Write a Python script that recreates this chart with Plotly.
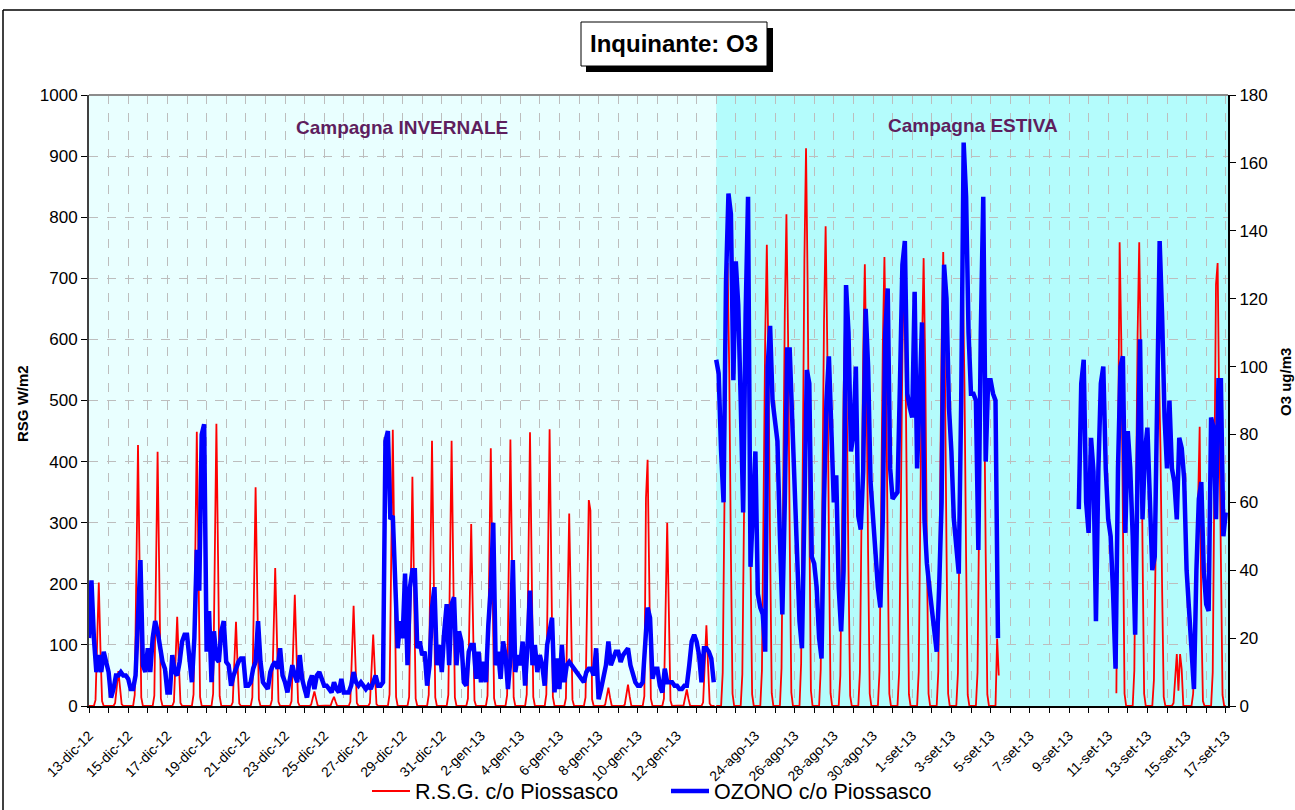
import plotly.graph_objects as go

# Day index 0 = 13-dic-12. Winter campaign: days 0-31; summer campaign: day 32 = 22-ago-13 ... day 58 = 17-set-13
TICK_DAYS = list(range(0, 59, 2))
TICK_LABELS = [
    "13-dic-12", "15-dic-12", "17-dic-12", "19-dic-12", "21-dic-12", "23-dic-12",
    "25-dic-12", "27-dic-12", "29-dic-12", "31-dic-12", "2-gen-13", "4-gen-13",
    "6-gen-13", "8-gen-13", "10-gen-13", "12-gen-13", "",
    "24-ago-13", "26-ago-13", "28-ago-13", "30-ago-13", "1-set-13", "3-set-13",
    "5-set-13", "7-set-13", "9-set-13", "11-set-13", "13-set-13", "15-set-13", "17-set-13",
]
WINTER_FIRST_DAY = 0
SUMMER_FIRST_DAY = 32

# Solar radiation (W/m2), one row per day, readings at 0,2,4,...,22 h
RSG_HOURS = [0, 2, 4, 6, 8, 10, 12, 14, 16, 18, 20, 22]
rsg_invernale = [
    [0, 0, 0, 0, 10, 110, 202, 95, 8, 0, 0, 0],
    [0, 0, 0, 0, 5, 38, 57, 30, 3, 0, 0, 0],
    [0, 0, 0, 0, 18, 245, 427, 225, 14, 0, 0, 0],
    [0, 0, 0, 0, 17, 236, 416, 218, 12, 0, 0, 0],
    [0, 0, 0, 0, 7, 88, 146, 72, 5, 0, 0, 0],
    [0, 0, 0, 0, 19, 258, 449, 236, 15, 0, 0, 0],
    [0, 0, 0, 0, 20, 268, 462, 246, 16, 0, 0, 0],
    [0, 0, 0, 0, 6, 82, 138, 64, 4, 0, 0, 0],
    [0, 0, 0, 0, 14, 205, 358, 190, 11, 0, 0, 0],
    [0, 0, 0, 0, 10, 128, 226, 118, 7, 0, 0, 0],
    [0, 0, 0, 0, 8, 102, 182, 92, 6, 0, 0, 0],
    [0, 0, 0, 0, 2, 14, 24, 12, 1, 0, 0, 0],
    [0, 0, 0, 0, 1, 9, 15, 7, 0, 0, 0, 0],
    [0, 0, 0, 0, 7, 94, 164, 82, 5, 0, 0, 0],
    [0, 0, 0, 0, 5, 66, 117, 58, 3, 0, 0, 0],
    [0, 0, 0, 0, 19, 262, 452, 238, 15, 0, 0, 0],
    [0, 0, 0, 0, 15, 214, 375, 196, 12, 0, 0, 0],
    [0, 0, 0, 0, 18, 250, 434, 228, 14, 0, 0, 0],
    [0, 0, 0, 0, 18, 252, 434, 226, 14, 0, 0, 0],
    [0, 0, 0, 0, 12, 170, 298, 154, 9, 0, 0, 0],
    [0, 0, 0, 0, 17, 244, 422, 220, 13, 0, 0, 0],
    [0, 0, 0, 0, 18, 252, 436, 228, 14, 0, 0, 0],
    [0, 0, 0, 0, 19, 258, 448, 234, 15, 0, 0, 0],
    [0, 0, 0, 0, 19, 262, 453, 236, 15, 0, 0, 0],
    [0, 0, 0, 0, 13, 180, 315, 166, 10, 0, 0, 0],
    [0, 0, 0, 0, 14, 210, 337, 320, 11, 0, 0, 0],
    [0, 0, 0, 0, 2, 16, 30, 14, 1, 0, 0, 0],
    [0, 0, 0, 0, 2, 20, 35, 16, 1, 0, 0, 0],
    [0, 0, 0, 0, 16, 340, 403, 210, 12, 0, 0, 0],
    [0, 0, 0, 0, 12, 172, 300, 156, 9, 0, 0, 0],
    [0, 0, 0, 0, 1, 14, 27, 12, 1, 0, 0, 0],
    [0, 0, 0, 0, 6, 76, 132, 68, 4, 0, 0, 0],
]
N = None
rsg_estiva = [
    [0, 0, 0, 0, 55, 330, 580, 725, 545, 250, 20, 0],
    [0, 0, 0, 0, 52, 318, 560, 703, 528, 244, 19, 0],
    [0, 0, 0, 0, 58, 340, 604, 755, 566, 262, 21, 0],
    [0, 0, 0, 0, 62, 362, 644, 805, 604, 280, 22, 0],
    [0, 0, 0, 0, 70, 410, 730, 913, 685, 318, 25, 0],
    [0, 0, 0, 0, 60, 352, 628, 785, 590, 272, 21, 0],
    [0, 0, 0, 0, 50, 288, 512, 640, 480, 222, 17, 0],
    [0, 0, 0, 0, 56, 325, 578, 723, 542, 250, 20, 0],
    [0, 0, 0, 0, 57, 330, 588, 735, 552, 256, 20, 0],
    [0, 0, 0, 0, 55, 324, 576, 720, 540, 250, 19, 0],
    [0, 0, 0, 0, 56, 330, 586, 733, 550, 254, 20, 0],
    [0, 0, 0, 0, 57, 334, 594, 743, 557, 258, 20, 0],
    [0, 0, 0, 0, 54, 315, 560, 700, 525, 243, 18, 0],
    [0, 0, 0, 0, 55, 324, 577, 721, 541, 250, 19, 0],
    [0, 0, 0, 0, 110, 50, N, N, N, N, N, N],
    [N] * 12,
    [N] * 12,
    [N] * 12,
    [N] * 12,
    [N] * 12,
    [N, N, N, N, N, 21, 380, 759, 600, 280, 20, 0],
    [0, 0, 0, 0, 58, 340, 607, 759, 570, 262, 20, 0],
    [0, 0, 0, 0, 43, 252, 448, 560, 420, 195, 15, 0],
    [0, 0, 0, 0, 5, 40, 85, 25, 85, 60, 0, 0],
    [0, 0, 0, 0, 20, 90, 200, 350, 457, 150, 8, 0],
    [0, 0, 0, 0, 55, 320, 690, 725, 520, 240, 18, 0],
    [0, N, N, N, N, N, N, N, N, N, N, N],
]

# Ozone (ug/m3), one row per day, readings at 0,3,...,21 h
O3_HOURS = [0, 3, 6, 9, 12, 15, 18, 21]
o3_invernale = [
    [20, 37, 20, 10, 15, 10, 16, 13],
    [10, 2.5, 5, 9, 9, 10, 9, 9],
    [8, 5, 5, 9, 30, 43, 12, 10],
    [17, 10, 20, 25, 22, 17, 13, 11],
    [4, 4, 15, 10, 9, 13, 19, 21],
    [21, 14, 7, 20, 46, 34, 80, 83],
    [16, 28, 7, 22, 14, 13, 22, 25],
    [13, 12, 6, 9, 11, 13, 14, 14],
    [6, 6, 7, 11, 13, 25, 13, 7],
    [6, 5, 10, 12, 13, 11, 17, 9],
    [7, 4, 8, 12, 9, 7, 15, 8],
    [5, 2.5, 7, 9, 5, 9, 10, 8],
    [6, 6, 5, 4, 7, 5, 4, 8],
    [4, 4, 4, 6, 10, 7, 6, 7],
    [6, 5, 6, 5, 7, 9, 6, 6],
    [7, 78, 81, 55, 56, 40, 17, 25],
    [20, 39, 12, 35, 40, 40, 17, 19],
    [15, 16, 6, 12, 29, 35, 12, 18],
    [10, 22, 30, 12, 30, 32, 12, 22],
    [19, 7, 6, 16, 18, 18, 8, 16],
    [7, 13, 7, 24, 35, 54, 12, 16],
    [8, 19, 15, 5, 14, 43, 10, 15],
    [12, 19, 6, 18, 34, 12, 18, 10],
    [15, 12, 6, 18, 23, 26, 4, 14],
    [5, 18, 7, 12, 13, 12, 11, 10],
    [9, 8, 7, 10, 11, 11, 9, 17],
    [2, 5, 8, 12, 19, 12, 14, 16],
    [16, 13, 15, 16, 17, 12, 9, 7],
    [6, 6, 7, 20, 29, 26, 8, 11],
    [11, 6, 4, 11, 7, 7, 7, 6],
    [6, 5, 5, 6, 6, 12, 19, 21],
    [19, 15, 7, 17, 17, 16, 14, 7],
]
o3_estiva = [
    [102, 98, 75, 60, 125, 151, 145, 96],
    [131, 118, 90, 57, 115, 150, 41, 60],
    [75, 33, 29, 27, 16, 100, 112, 90],
    [85, 78, 50, 27, 60, 105, 105, 83],
    [60, 47, 25, 17, 55, 99, 95, 44],
    [42, 35, 20, 14, 60, 90, 103, 80],
    [60, 68, 35, 22, 40, 124, 110, 75],
    [80, 100, 56, 52, 69, 117, 100, 66],
    [55, 45, 35, 29, 55, 110, 123, 70],
    [61, 62, 63, 95, 130, 137, 92, 88],
    [85, 122, 70, 90, 113, 55, 42, 35],
    [28, 22, 16, 35, 60, 130, 120, 88],
    [75, 55, 45, 39, 90, 166, 150, 110],
    [92, 92, 90, 46, 110, 150, 72, 96],
    [96, 92, 90, 20, N, N, N, N],
    [N] * 8,
    [N] * 8,
    [N] * 8,
    [N, N, N, N, 58, 95, 102, 60],
    [51, 79, 69, 25, 70, 95, 100, 70],
    [55, 50, 33, 11, 70, 100, 103, 51],
    [81, 70, 50, 21, 70, 108, 55, 75],
    [82, 60, 40, 44, 100, 137, 115, 85],
    [70, 90, 70, 66, 55, 79, 76, 67],
    [40, 28, 12, 5, 40, 61, 66, 40],
    [30, 28, 85, 82, 55, 96, 96, 50],
    [57, N, N, N, N, N, N, N],
]


def expand(rows, first_day, hours):
    xs, ys = [], []
    for i, row in enumerate(rows):
        for h, v in zip(hours, row):
            xs.append(first_day + i + h / 24)
            ys.append(v)
    return xs, ys


def campaigns(winter_rows, summer_rows, hours):
    xw, yw = expand(winter_rows, WINTER_FIRST_DAY, hours)
    xs, ys = expand(summer_rows, SUMMER_FIRST_DAY, hours)
    # break the line between the two campaigns
    return xw + [None] + xs, yw + [None] + ys


rsg_x, rsg_y = campaigns(rsg_invernale, rsg_estiva, RSG_HOURS)
o3_x, o3_y = campaigns(o3_invernale, o3_estiva, O3_HOURS)

FONT = "Liberation Sans, Arial, sans-serif"
W, H = 1295, 810
ML, MR, MT, MB = 89, 67, 95, 104
PW, PH = W - ML - MR, H - MT - MB


def px(xp):
    return (xp - ML) / PW


def py(yp):
    return (H - MB - yp) / PH


fig = go.Figure()
fig.add_trace(go.Scatter(
    x=rsg_x, y=rsg_y, mode="lines", name="R.S.G. c/o Piossasco",
    line=dict(color="#FF0000", width=1.8), connectgaps=False, yaxis="y",
))
fig.add_trace(go.Scatter(
    x=o3_x, y=o3_y, mode="lines", name="OZONO c/o Piossasco",
    line=dict(color="#0000FF", width=4.5), connectgaps=False, yaxis="y2",
))

GRID = "#BDBDBD"
fig.update_layout(
    width=W, height=H,
    margin=dict(l=ML, r=MR, t=MT, b=MB, autoexpand=False),
    paper_bgcolor="white", plot_bgcolor="white",
    font=dict(family=FONT, color="black"),
    xaxis=dict(
        range=[0, PW / 19.6], tickmode="array", tickvals=TICK_DAYS, ticktext=TICK_LABELS,
        tickangle=-45, tickfont=dict(size=14), ticks="outside", ticklen=5, ticklabelstandoff=9,
        tickcolor="black", showline=True, linecolor="black", linewidth=2, automargin=False,
        showgrid=True, gridcolor=GRID, griddash="dash", gridwidth=1, zeroline=False,
        minor=dict(dtick=1, tick0=0, ticks="outside", ticklen=5, tickcolor="black",
                   showgrid=True, gridcolor=GRID, griddash="dash", gridwidth=1),
    ),
    yaxis=dict(
        range=[0, 1000], dtick=100, tickfont=dict(size=17), ticks="outside", ticklen=6,
        tickcolor="black", showline=True, linecolor="#404040", linewidth=2, automargin=False,
        showgrid=True, gridcolor=GRID, griddash="dash", gridwidth=1, zeroline=False,
    ),
    yaxis2=dict(
        range=[0, 180], dtick=20, overlaying="y", side="right", tickfont=dict(size=17),
        ticks="outside", ticklen=6, tickcolor="black", showline=True, linecolor="black",
        linewidth=2, showgrid=False, zeroline=False, automargin=False,
    ),
    legend=dict(
        orientation="h", x=px(367), y=py(791), xanchor="left", yanchor="middle",
        font=dict(size=21.5), itemwidth=38, entrywidth=246, bgcolor="rgba(0,0,0,0)",
    ),
)

# campaign backgrounds
fig.add_shape(type="rect", xref="x", yref="paper", x0=0, x1=SUMMER_FIRST_DAY, y0=0, y1=1,
              fillcolor="#E9FFFF", line_width=0, layer="below")
fig.add_shape(type="rect", xref="x", yref="paper", x0=SUMMER_FIRST_DAY, x1=60, y0=0, y1=1,
              fillcolor="#B4FCFC", line_width=0, layer="below")
# top border of plot area
fig.add_shape(type="line", xref="paper", yref="paper", x0=0, x1=1, y0=1, y1=1,
              line=dict(color="#8C8C8C", width=2))
# outer chart frame
fig.add_shape(type="line", xref="paper", yref="paper", x0=px(3), x1=px(1300), y0=py(10), y1=py(10),
              line=dict(color="black", width=1.5))
fig.add_shape(type="line", xref="paper", yref="paper", x0=px(3), x1=px(3), y0=py(10), y1=py(815),
              line=dict(color="black", width=1.5))
# title box with shadow
fig.add_shape(type="rect", xref="paper", yref="paper", x0=px(586), x1=px(773), y0=py(72), y1=py(28),
              fillcolor="black", line_width=0)
fig.add_shape(type="rect", xref="paper", yref="paper", x0=px(581), x1=px(767), y0=py(66), y1=py(22),
              fillcolor="white", line=dict(color="black", width=1))


def label(text, x, y, size, color="black", angle=0):
    fig.add_annotation(text=text, xref="paper", yref="paper", x=px(x), y=py(y),
                       xanchor="center", yanchor="middle", textangle=angle, showarrow=False,
                       font=dict(size=size, family=FONT, color=color))


label("<b>Inquinante: O3</b>", 674, 44, 24)
label("<b>Campagna INVERNALE</b>", 402, 128, 19, "#5E1E5E")
label("<b>Campagna ESTIVA</b>", 973, 125, 19, "#5E1E5E")
label("<b>RSG W/m2</b>", 22, 404, 15, angle=-90)
label("<b>O3 ug/m3</b>", 1285, 382, 15, angle=-90)

fig.write_html("out.html")
